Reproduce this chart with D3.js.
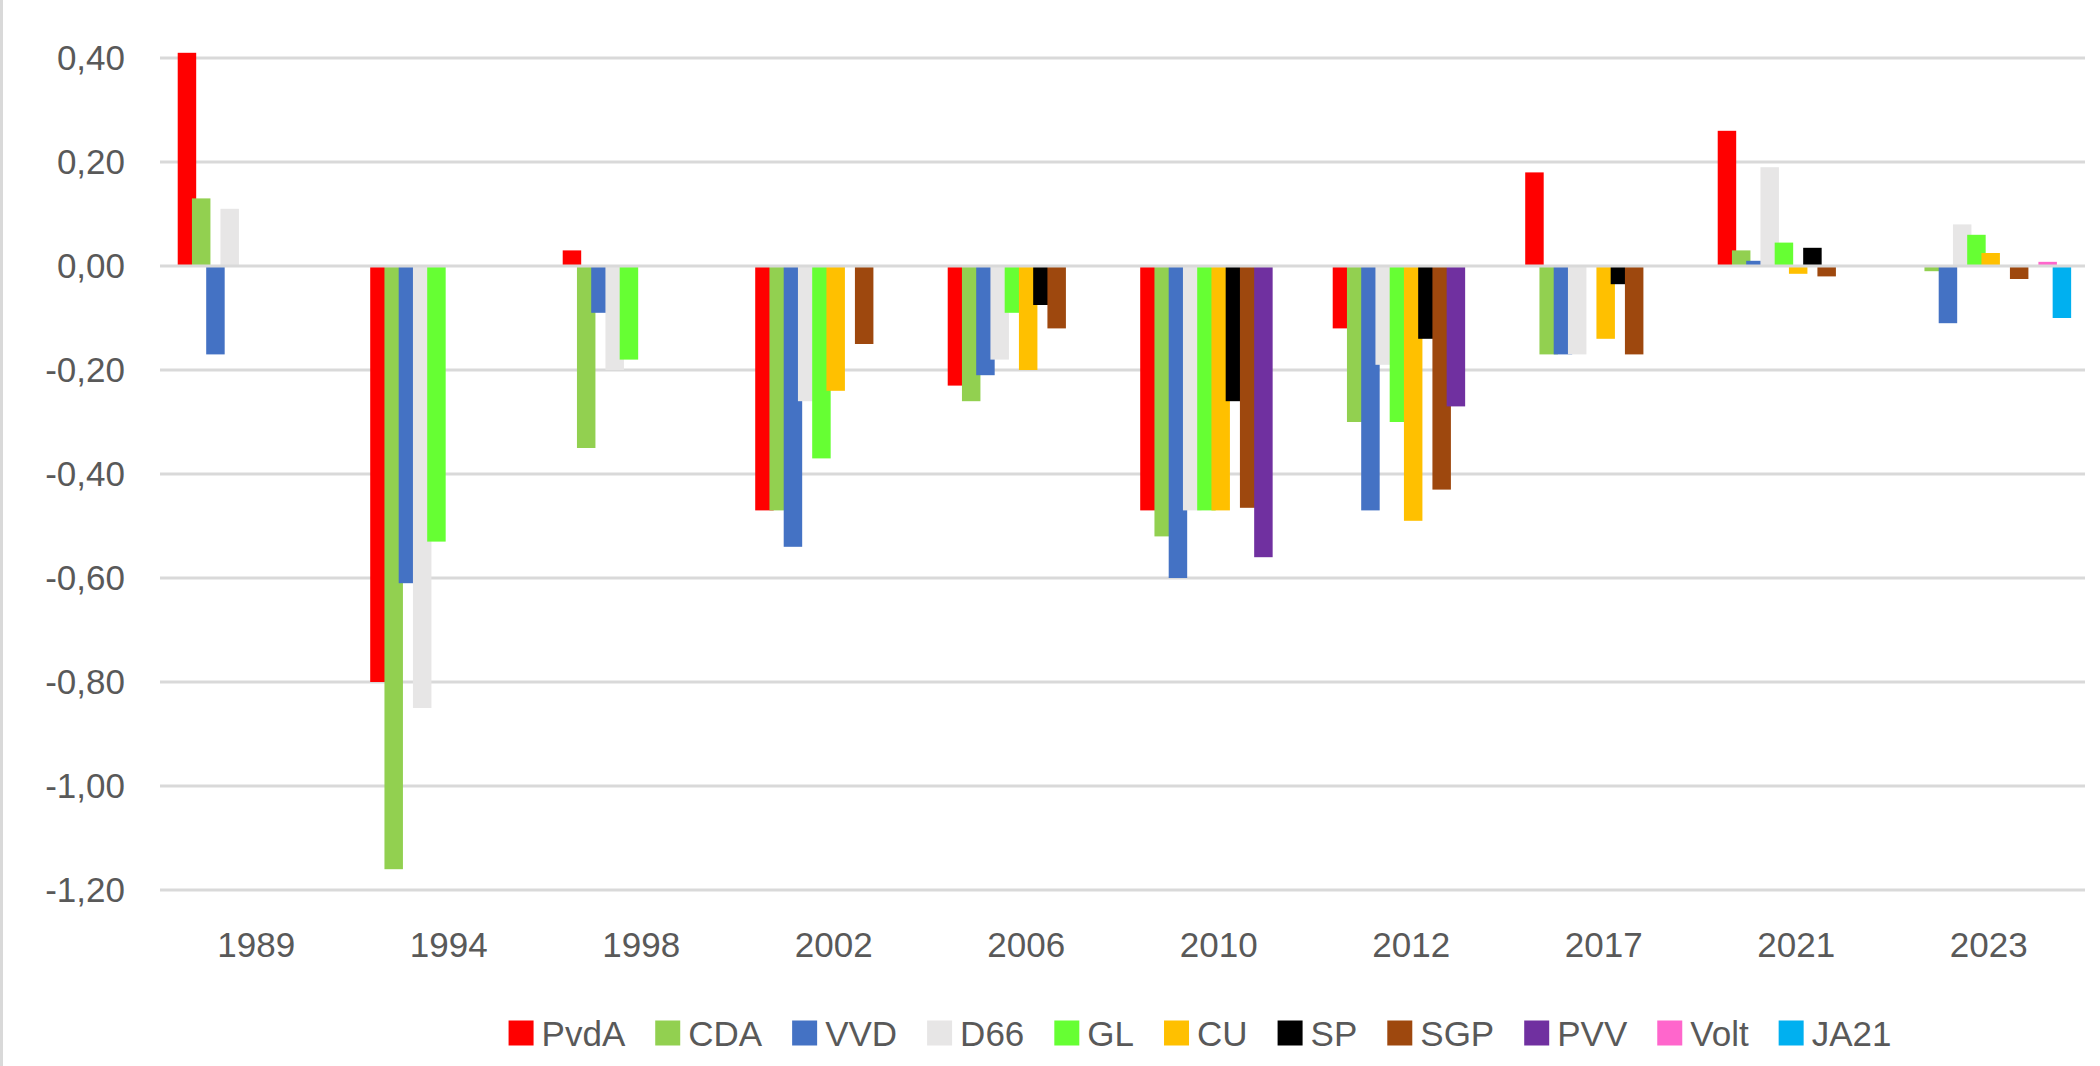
<!DOCTYPE html>
<html>
<head>
<meta charset="utf-8">
<script src="https://cdn.jsdelivr.net/npm/d3@7"></script>
<style>
  html, body { margin: 0; padding: 0; background: #fff; }
  svg { display: block; }
  text { font-family: "Liberation Sans", Arial, sans-serif; fill: #595959; }
</style>
</head>
<body>
<svg id="chart"></svg>
<script>
const W = 2100, H = 1066;

// years on the x axis
const years = ["1989", "1994", "1998", "2002", "2006", "2010", "2012", "2017", "2021", "2023"];

// parties and their colours (series order)
const parties = ["PvdA", "CDA", "VVD", "D66", "GL", "CU", "SP", "SGP", "PVV", "Volt", "JA21"];
const colors = ["#FF0000", "#92D050", "#4472C4", "#E7E6E6", "#66FF33", "#FFC000", "#000000", "#9E480E", "#7030A0", "#FF66CC", "#00B0F0"];

// values per party, one per year (null = no bar)
const pvda = [0.41, -0.80, 0.03, -0.47, -0.23, -0.47, -0.12, 0.18, 0.26, null];
const cda  = [0.13, -1.16, -0.35, -0.47, -0.26, -0.52, -0.30, -0.17, 0.03, -0.01];
const vvd  = [-0.17, -0.61, -0.09, -0.54, -0.21, -0.60, -0.47, -0.17, 0.01, -0.11];
const d66  = [0.11, -0.85, -0.20, -0.26, -0.18, -0.47, -0.19, -0.17, 0.19, 0.08];
const gl   = [null, -0.53, -0.18, -0.37, -0.09, -0.47, -0.30, null, 0.045, 0.06];
const cu   = [null, null, null, -0.24, -0.20, -0.47, -0.49, -0.14, -0.015, 0.025];
const sp   = [null, null, null, null, -0.075, -0.26, -0.14, -0.035, 0.035, null];
const sgp  = [null, null, null, -0.15, -0.12, -0.465, -0.43, -0.17, -0.02, -0.025];
const pvv  = [null, null, null, null, null, -0.56, -0.27, null, null, null];
const volt = [null, null, null, null, null, null, null, null, null, 0.008];
const ja21 = [null, null, null, null, null, null, null, null, null, -0.10];

const seriesValues = [pvda, cda, vvd, d66, gl, cu, sp, sgp, pvv, volt, ja21];

// y tick values
const yTicks = [0.40, 0.20, 0.00, -0.20, -0.40, -0.60, -0.80, -1.00, -1.20];

const nl = d3.formatLocale({ decimal: ",", thousands: ".", grouping: [3], currency: ["€", ""], minus: "-" });
const fmt = nl.format(".2f");

const plot = { left: 160, right: 2085, top: 58, bottom: 890 };

const svg = d3.select("#chart").attr("width", W).attr("height", H);
svg.append("rect").attr("width", W).attr("height", H).attr("fill", "#fff");
// left border of the chart area
svg.append("rect").attr("x", 0).attr("y", 0).attr("width", 3).attr("height", H).attr("fill", "#D9D9D9");

const x = d3.scaleBand().domain(years).range([plot.left, plot.right]).padding(0);
const y = d3.scaleLinear().domain([-1.2, 0.4]).range([plot.bottom, plot.top]);

// bars overlap a bit inside each year, like the source chart
const band = x.bandwidth();
const stride = band * 0.074;
const barW = band * 0.096;
const offset = band * 0.092;
const xs = d3.scaleLinear().domain([0, parties.length - 1]).range([offset, offset + stride * (parties.length - 1)]);

// gridlines
svg.append("g").selectAll("line")
  .data(yTicks.filter(t => t !== 0))
  .join("line")
  .attr("x1", plot.left).attr("x2", plot.right)
  .attr("y1", d => y(d)).attr("y2", d => y(d))
  .attr("stroke", "#D9D9D9").attr("stroke-width", 3);

// y axis labels
const yAxis = d3.axisLeft(y).tickValues(yTicks).tickFormat(fmt).tickSize(0).tickPadding(0);
svg.append("g")
  .attr("transform", `translate(${plot.left - 35},0)`)
  .call(yAxis)
  .call(g => g.select(".domain").remove())
  .call(g => g.selectAll("text")
    .attr("font-family", "Liberation Sans, Arial, sans-serif")
    .attr("font-size", 35)
    .attr("fill", "#595959"));

// bars, series by series so later parties sit on top
seriesValues.forEach((vals, i) => {
  const data = years.map((yr, j) => ({ year: yr, value: vals[j] })).filter(d => d.value !== null);
  svg.append("g").selectAll("rect")
    .data(data)
    .join("rect")
    .attr("x", d => x(d.year) + xs(i))
    .attr("width", barW)
    .attr("y", d => y(Math.max(0, d.value)))
    .attr("height", d => Math.abs(y(d.value) - y(0)))
    .attr("fill", colors[i]);
});

// zero line on top
svg.append("line")
  .attr("x1", plot.left).attr("x2", plot.right)
  .attr("y1", y(0)).attr("y2", y(0))
  .attr("stroke", "#D9D9D9").attr("stroke-width", 3);

// x axis labels
const xAxis = d3.axisBottom(x).tickSize(0).tickPadding(0);
svg.append("g")
  .attr("transform", `translate(0,${plot.bottom + 42})`)
  .call(xAxis)
  .call(g => g.select(".domain").remove())
  .call(g => g.selectAll("text")
    .attr("font-family", "Liberation Sans, Arial, sans-serif")
    .attr("font-size", 35)
    .attr("fill", "#595959"));

// legend
const legend = svg.append("g");
const items = legend.selectAll("g").data(parties).join("g");
items.append("rect")
  .attr("width", 25).attr("height", 25).attr("y", -12.5)
  .attr("fill", (d, i) => colors[i]);
items.append("text")
  .attr("x", 33).attr("y", 13)
  .attr("font-size", 35)
  .text(d => d);
let cx = 0;
items.each(function () {
  const g = d3.select(this);
  g.attr("transform", `translate(${cx},0)`);
  cx += 33 + g.select("text").node().getComputedTextLength() + 30;
});
const legendW = cx - 30;
legend.attr("transform", `translate(${1200 - legendW / 2},1033)`);
</script>
</body>
</html>
